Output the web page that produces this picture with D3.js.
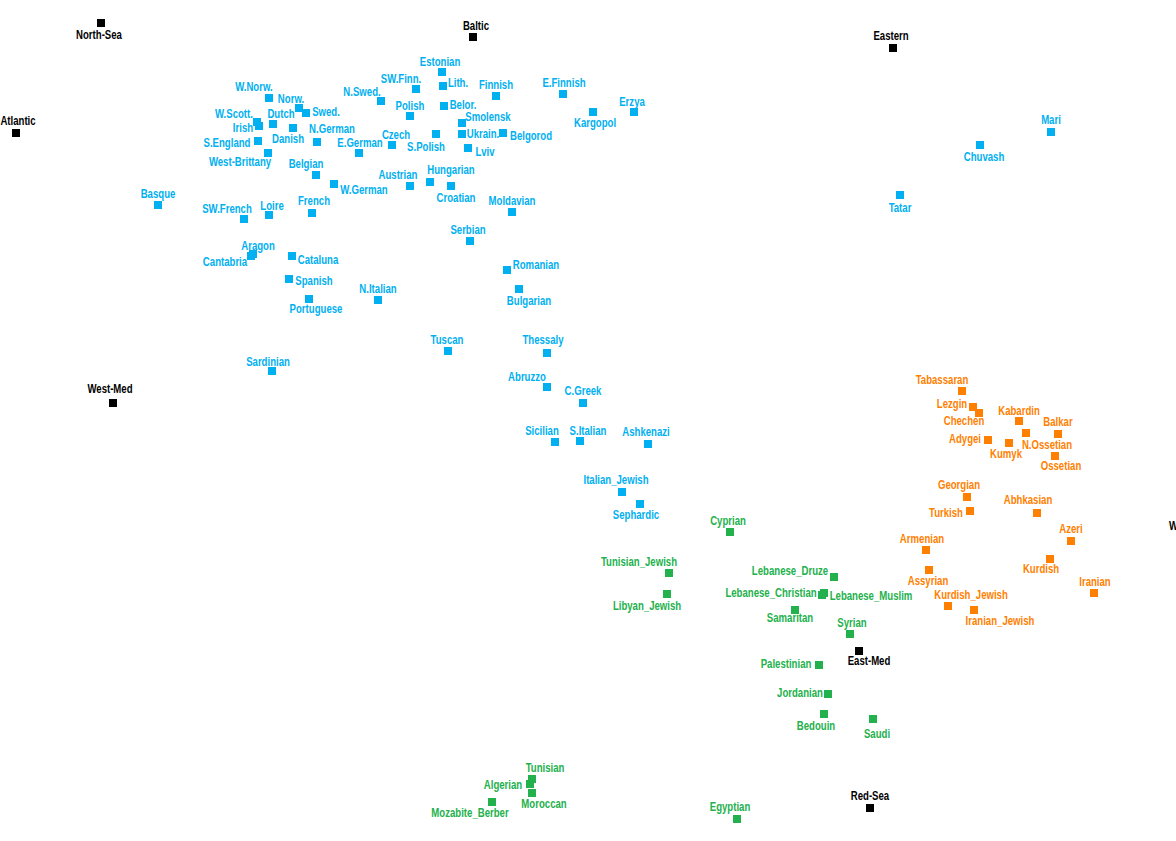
<!DOCTYPE html>
<html>
<head>
<meta charset="utf-8">
<script src="https://cdn.jsdelivr.net/npm/d3@7"></script>
<style>
  html, body { margin: 0; padding: 0; background: #fff; overflow: hidden; }
  text { font-family: 'Liberation Sans Narrow', 'Liberation Sans', Arial, sans-serif; font-weight: bold; font-size: 12px; }
</style>
</head>
<body>
<div id="chart"></div>
<script>
/* Data: [name, PC1, PC2] */
const references = [
  ['North-Sea', 10.1, -2.3], ['Baltic', 47.3, -3.7], ['Eastern', 89.3, -4.8],
  ['Atlantic', 1.6, -13.3], ['West-Med', 11.3, -40.3], ['East-Med', 85.9, -65.1],
  ['Red-Sea', 87.0, -80.8], ['West-Asian', 119.5, -53.8]
];

const europe = [
  ['W.Norw.', 26.9, -9.8], ['Norw.', 29.9, -10.8], ['Swed.', 30.6, -11.3],
  ['W.Scott.', 25.7, -12.2], ['Irish', 25.9, -12.6], ['Dutch', 27.3, -12.4],
  ['Danish', 29.3, -12.8], ['N.German', 31.7, -14.2], ['S.England', 25.8, -14.1],
  ['West-Brittany', 26.8, -15.3], ['E.German', 35.9, -15.3], ['Czech', 39.2, -14.5],
  ['Belgian', 31.6, -17.5], ['W.German', 33.4, -18.4], ['Basque', 15.8, -20.5],
  ['SW.French', 24.4, -21.9], ['Loire', 26.9, -21.5], ['French', 31.2, -21.3],
  ['Estonian', 44.2, -7.2], ['SW.Finn.', 41.6, -8.9], ['Lith.', 44.3, -8.6],
  ['N.Swed.', 38.1, -10.1], ['Finnish', 49.6, -9.6], ['E.Finnish', 56.3, -9.4],
  ['Erzya', 63.4, -11.2], ['Kargopol', 59.3, -11.2], ['Polish', 41.0, -11.6],
  ['Belor.', 44.4, -10.6], ['Smolensk', 46.2, -12.3], ['Ukrain.', 46.2, -13.4],
  ['Belgorod', 50.3, -13.3], ['S.Polish', 43.6, -13.4], ['Lviv', 46.8, -14.8],
  ['Hungarian', 43.0, -18.2], ['Austrian', 41.0, -18.6], ['Croatian', 45.1, -18.6],
  ['Moldavian', 51.2, -21.2], ['Serbian', 47.0, -24.1], ['Romanian', 50.7, -27.0],
  ['Bulgarian', 51.9, -28.9], ['Tuscan', 44.8, -35.1], ['Thessaly', 54.7, -35.3],
  ['Abruzzo', 54.7, -38.7], ['C.Greek', 58.3, -40.3], ['Sicilian', 55.5, -44.2],
  ['S.Italian', 58.0, -44.1], ['Ashkenazi', 64.8, -44.4], ['Italian_Jewish', 62.2, -49.2],
  ['Sephardic', 64.0, -50.4], ['Aragon', 25.3, -25.4], ['Cantabria', 25.1, -25.6],
  ['Cataluna', 29.2, -25.6], ['Spanish', 28.9, -27.9], ['Portuguese', 30.9, -29.9],
  ['N.Italian', 37.8, -30.0], ['Sardinian', 27.2, -37.1], ['Mari', 105.1, -13.2],
  ['Chuvash', 98.0, -14.5], ['Tatar', 90.0, -19.5]
];

const caucasus = [
  ['Tabassaran', 96.2, -39.1], ['Lezgin', 97.3, -40.7], ['Chechen', 97.9, -41.3],
  ['Kabardin', 101.9, -42.1], ['Balkar', 105.8, -43.4], ['N.Ossetian', 102.6, -43.3],
  ['Adygei', 98.8, -44.0], ['Kumyk', 100.9, -44.3], ['Ossetian', 105.5, -45.6],
  ['Georgian', 96.7, -49.7], ['Turkish', 97.0, -51.1], ['Abhkasian', 103.7, -51.3],
  ['Azeri', 107.1, -54.1], ['Armenian', 92.6, -55.0], ['Kurdish', 105.0, -55.9],
  ['Assyrian', 92.9, -57.0], ['Iranian', 109.4, -59.3], ['Kurdish_Jewish', 94.8, -60.6],
  ['Iranian_Jewish', 97.4, -61.0]
];

const nearEast = [
  ['Cyprian', 73.0, -53.2], ['Tunisian_Jewish', 66.9, -57.3], ['Libyan_Jewish', 66.7, -59.4],
  ['Lebanese_Druze', 83.4, -57.7], ['Lebanese_Christian', 82.2, -59.5], ['Lebanese_Muslim', 82.4, -59.3],
  ['Samaritan', 79.5, -61.0], ['Syrian', 85.0, -63.4], ['Palestinian', 81.9, -66.5],
  ['Jordanian', 82.8, -69.4], ['Bedouin', 82.4, -71.4], ['Saudi', 87.3, -71.9],
  ['Tunisian', 53.2, -77.9], ['Algerian', 53.0, -78.4], ['Moroccan', 53.2, -79.3],
  ['Mozabite_Berber', 49.2, -80.2], ['Egyptian', 73.7, -81.9]
];

const groupColors = {
  references: '#000000',
  europe: '#00b0f0',
  caucasus: '#ff7f00',
  nearEast: '#22b14c'
};

// label placement (pixel offset of label centre from its marker)
const labelOffset = {
  'North-Sea': [-2, 12], 'Baltic': [3, -11], 'Eastern': [-2, -12], 'Atlantic': [2, -12],
  'West-Med': [-3, -14], 'East-Med': [10, 10], 'Red-Sea': [0, -12], 'West-Asian': [0, -12],
  'W.Norw.': [-15, -11], 'Norw.': [-8, -9], 'Swed.': [20, -1], 'W.Scott.': [-23, -8],
  'Irish': [-16, 2], 'Dutch': [8, -10], 'Danish': [-5, 11], 'N.German': [15, -13],
  'S.England': [-31, 2], 'West-Brittany': [-28, 9], 'E.German': [1, -10], 'Czech': [4, -10],
  'Belgian': [-10, -11], 'W.German': [30, 6], 'Basque': [0, -11], 'SW.French': [-17, -10],
  'Loire': [3, -9], 'French': [2, -12], 'Estonian': [-2, -10], 'SW.Finn.': [-15, -10],
  'Lith.': [15, -3], 'N.Swed.': [-19, -9], 'Finnish': [0, -11], 'E.Finnish': [1, -11],
  'Erzya': [-2, -10], 'Kargopol': [2, 11], 'Polish': [0, -10], 'Belor.': [19, -1],
  'Smolensk': [26, -6], 'Ukrain.': [21, 0], 'Belgorod': [28, 3], 'S.Polish': [-10, 13],
  'Lviv': [17, 4], 'Hungarian': [21, -12], 'Austrian': [-12, -11], 'Croatian': [5, 12],
  'Moldavian': [0, -11], 'Serbian': [-2, -11], 'Romanian': [29, -5], 'Bulgarian': [10, 12],
  'Tuscan': [-1, -11], 'Thessaly': [-4, -13], 'Abruzzo': [-20, -10], 'C.Greek': [0, -12],
  'Sicilian': [-13, -11], 'S.Italian': [8, -10], 'Ashkenazi': [-2, -12], 'Italian_Jewish': [-6, -12],
  'Sephardic': [-4, 11], 'Aragon': [5, -8], 'Cantabria': [-26, 6], 'Cataluna': [26, 4],
  'Spanish': [25, 2], 'Portuguese': [7, 10], 'N.Italian': [0, -11], 'Sardinian': [-4, -9],
  'Mari': [0, -12], 'Chuvash': [4, 12], 'Tatar': [0, 13],
  'Tabassaran': [-20, -11], 'Lezgin': [-21, -3], 'Chechen': [-15, 8], 'Kabardin': [0, -10],
  'Balkar': [0, -12], 'N.Ossetian': [21, 12], 'Adygei': [-23, -1], 'Kumyk': [-3, 11],
  'Ossetian': [6, 10], 'Georgian': [-8, -12], 'Turkish': [-24, 2], 'Abhkasian': [-9, -13],
  'Azeri': [0, -12], 'Armenian': [-4, -11], 'Kurdish': [-9, 10], 'Assyrian': [-1, 11],
  'Iranian': [1, -11], 'Kurdish_Jewish': [23, -11], 'Iranian_Jewish': [26, 11],
  'Cyprian': [-2, -11], 'Tunisian_Jewish': [-30, -11], 'Libyan_Jewish': [-20, 12],
  'Lebanese_Druze': [-44, -6], 'Lebanese_Christian': [-51, -2], 'Lebanese_Muslim': [47, 3],
  'Samaritan': [-5, 8], 'Syrian': [2, -11], 'Palestinian': [-33, -1], 'Jordanian': [-28, -1],
  'Bedouin': [-8, 12], 'Saudi': [4, 15], 'Tunisian': [13, -11], 'Algerian': [-27, 1],
  'Moroccan': [12, 11], 'Mozabite_Berber': [-22, 11], 'Egyptian': [-7, -12]
};

const width = 1176,
  height = 841,
  markerSize = 8,
  narrow = 0.8; // labels are set in a condensed face

const x = d3.scaleLinear().domain([0, 117.6]).range([0, width]);
const y = d3.scaleLinear().domain([-84.1, 0]).range([height, 0]);

const svg = d3
  .select('#chart')
  .append('svg')
  .attr('width', width)
  .attr('height', height);

const series = [
  { key: 'europe', rows: europe },
  { key: 'caucasus', rows: caucasus },
  { key: 'nearEast', rows: nearEast },
  { key: 'references', rows: references }
];

const offset = (d) => labelOffset[d[0]] || [0, -12];

series.forEach((s) => {
  const g = svg.append('g').attr('class', 'group-' + s.key);
  const color = groupColors[s.key];

  g.selectAll('rect')
    .data(s.rows)
    .join('rect')
    .attr('x', (d) => x(d[1]) - markerSize / 2)
    .attr('y', (d) => y(d[2]) - markerSize / 2)
    .attr('width', markerSize)
    .attr('height', markerSize)
    .attr('fill', color);

  g.selectAll('text')
    .data(s.rows)
    .join('text')
    .attr(
      'transform',
      (d) =>
        `translate(${x(d[1]) + offset(d)[0]},${y(d[2]) + offset(d)[1]}) scale(${narrow},1)`
    )
    .attr('dy', '0.35em')
    .attr('text-anchor', 'middle')
    .attr('fill', color)
    .text((d) => d[0]);
});
</script>
</body>
</html>
